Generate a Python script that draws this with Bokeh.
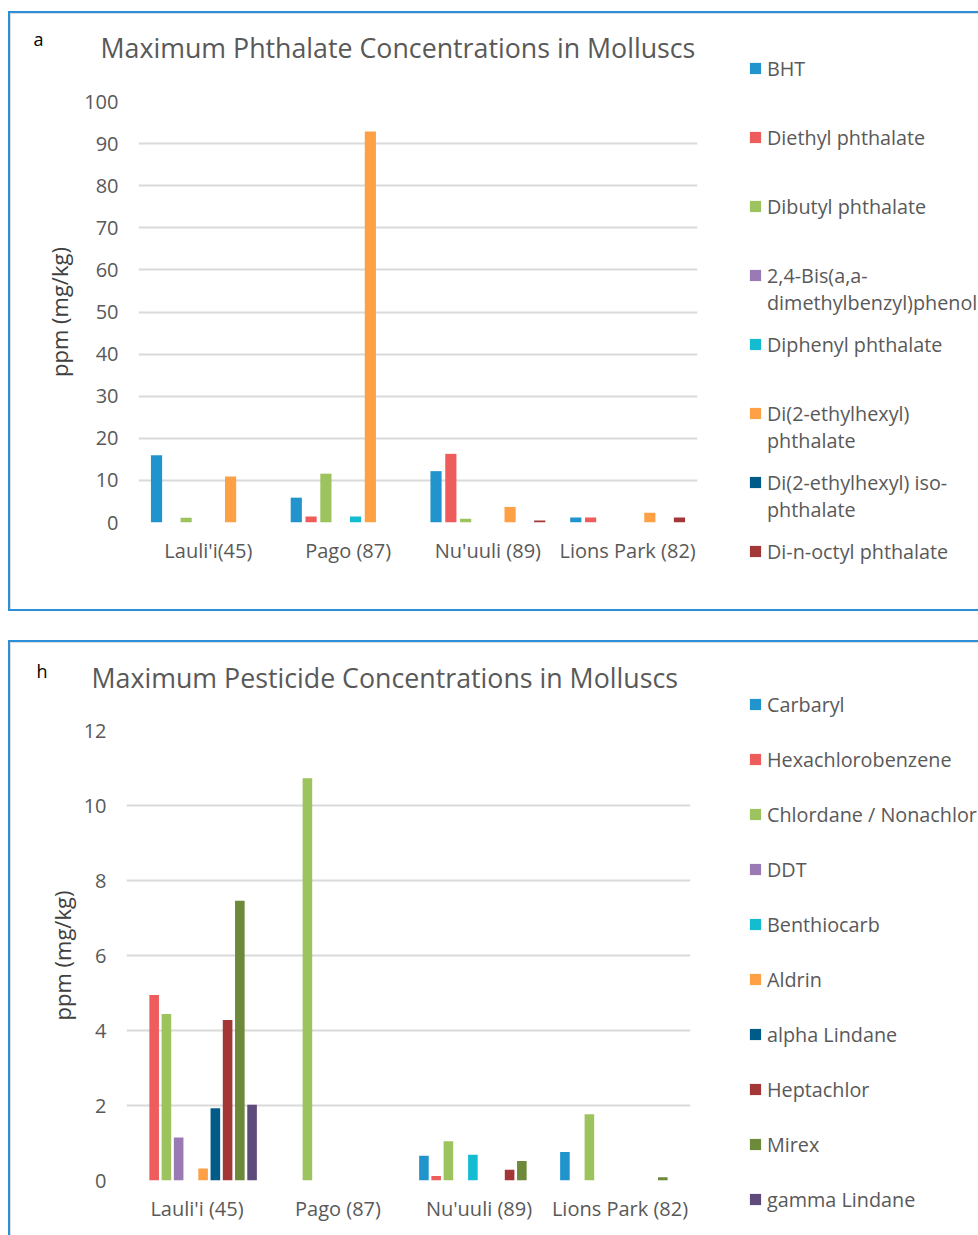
from bokeh.plotting import figure
from bokeh.models import (FactorRange, Range1d, Legend, LegendItem, Label,
                          SingleIntervalTicker, ColumnDataSource)
from bokeh.transform import dodge
from bokeh.layouts import column, row
from bokeh.embed import file_html
from bokeh.resources import INLINE

# ---------------- data: panel a (phthalates) ----------------
sites_a = ["Lauli'i(45)", "Pago (87)", "Nu'uuli (89)", "Lions Park (82)"]
phthalate_names = ["BHT", "Diethyl phthalate", "Dibutyl phthalate",
                   "2,4-Bis(a,a-\ndimethylbenzyl)phenol", "Diphenyl phthalate",
                   "Di(2-ethylhexyl)\nphthalate", "Di(2-ethylhexyl) iso-\nphthalate",
                   "Di-n-octyl phthalate"]
bht = [16.0, 5.9, 12.2, 1.2]
diethyl = [0.0, 1.4, 16.3, 1.2]
dibutyl = [1.1, 11.6, 0.9, 0.0]
bis_phenol = [0.0, 0.0, 0.0, 0.0]
diphenyl = [0.0, 1.4, 0.0, 0.0]
dehp = [10.9, 92.9, 3.7, 2.3]
dehip = [0.0, 0.0, 0.0, 0.0]
dnop = [0.0, 0.0, 0.5, 1.2]
phthalate_values = [bht, diethyl, dibutyl, bis_phenol, diphenyl, dehp, dehip, dnop]

# ---------------- data: panel b (pesticides) ----------------
sites_b = ["Lauli'i (45)", "Pago (87)", "Nu'uuli (89)", "Lions Park (82)"]
pesticide_names = ["Carbaryl", "Hexachlorobenzene", "Chlordane / Nonachlor", "DDT",
                   "Benthiocarb", "Aldrin", "alpha Lindane", "Heptachlor", "Mirex",
                   "gamma Lindane"]
carbaryl = [0.0, 0.0, 0.66, 0.76]
hcb = [4.95, 0.0, 0.12, 0.0]
chlordane = [4.44, 10.73, 1.05, 1.77]
ddt = [1.15, 0.0, 0.0, 0.0]
benthiocarb = [0.0, 0.0, 0.69, 0.0]
aldrin = [0.32, 0.0, 0.0, 0.0]
alpha_lindane = [1.93, 0.0, 0.0, 0.0]
heptachlor = [4.28, 0.0, 0.29, 0.0]
mirex = [7.46, 0.0, 0.52, 0.09]
gamma_lindane = [2.02, 0.0, 0.0, 0.0]
pesticide_values = [carbaryl, hcb, chlordane, ddt, benthiocarb, aldrin,
                    alpha_lindane, heptachlor, mirex, gamma_lindane]

colors = ["#2194CE", "#EE5C5C", "#9DC35F", "#9A7AB5", "#14BCD2",
          "#FDA046", "#005B88", "#A33636", "#6C8A3A", "#5F4A7C"]

FONT = "Open Sans"
GRAY = "#595959"
BLUE = "#2B90D9"
W_MAIN = 741
W_LEG = 237


def frame_css(top, bottom):
    """Chart-area border (blue, open on the right) drawn behind the canvases."""
    hgt = bottom - top
    imgs, pos, size = [], [], []
    imgs += ["linear-gradient(%s,%s)" % (BLUE, BLUE)] * 3
    pos += ["8px %dpx" % top, "8px %dpx" % top, "8px %dpx" % (bottom - 2)]
    size += ["2px %dpx" % hgt, "970px 2px", "970px 2px"]
    imgs += ["linear-gradient(#DDDDDD,#DDDDDD)"] * 2
    pos += ["10px %dpx" % (top + 2), "10px %dpx" % (top + 2)]
    size += ["1px %dpx" % (hgt - 4), "968px 1px"]
    return {"background-image": ", ".join(imgs),
            "background-position": ", ".join(pos),
            "background-size": ", ".join(size),
            "background-repeat": "no-repeat"}


def bare_figure(w, h):
    f = figure(width=w, height=h, x_axis_type=None, y_axis_type=None,
               x_range=Range1d(0, 1), y_range=Range1d(0, 1),
               output_backend="svg", toolbar_location=None, min_border=0,
               frame_align=False)
    f.outline_line_color = None
    f.background_fill_color = None
    f.border_fill_color = None
    f.grid.visible = False
    return f


def make_panel(letter, title, sites, names, values, ymax, ystep,
               panel_h, header_h, frame_l, frame_r, frame_t, frame_b,
               step, bar_w, title_xy, letter_xy, axis_label_standoff,
               leg_first, leg_slot, box):
    # ---- header with panel letter and chart title ----
    head = bare_figure(W_MAIN, header_h)
    head.add_layout(Label(x=letter_xy[0], y=letter_xy[1], x_units="canvas",
                          y_units="canvas", text=letter, text_font=FONT,
                          text_font_size="18px", text_color="black",
                          text_baseline="middle"))
    head.add_layout(Label(x=title_xy[0], y=title_xy[1], x_units="canvas",
                          y_units="canvas", text=title, text_font=FONT,
                          text_font_size="26.75px", text_color=GRAY,
                          text_baseline="middle"))

    # ---- bar chart ----
    main_h = panel_h - header_h
    p = figure(width=W_MAIN, height=main_h, x_range=FactorRange(*sites),
               y_range=Range1d(0, ymax), output_backend="svg",
               toolbar_location=None, frame_align=False,
               min_border_left=frame_l, min_border_right=W_MAIN - frame_r,
               min_border_top=frame_t - header_h,
               min_border_bottom=panel_h - frame_b)
    p.outline_line_color = None
    p.background_fill_color = None
    p.border_fill_color = None
    p.xgrid.grid_line_color = None
    p.ygrid.grid_line_color = "#DADADA"
    p.ygrid.grid_line_width = 2
    p.yaxis.ticker = SingleIntervalTicker(interval=ystep)
    for ax in (p.xaxis[0], p.yaxis[0]):
        ax.axis_line_color = None
        ax.major_tick_line_color = None
        ax.minor_tick_line_color = None
        ax.major_tick_out = 0
        ax.major_tick_in = 0
        ax.major_label_text_font = FONT
        ax.major_label_text_font_size = "20px"
        ax.major_label_text_color = GRAY
    p.yaxis.major_label_standoff = 16
    p.xaxis.major_label_standoff = 14
    p.yaxis.axis_label = "ppm (mg/kg)"
    p.yaxis.axis_label_text_font = FONT
    p.yaxis.axis_label_text_font_size = "22px"
    p.yaxis.axis_label_text_font_style = "normal"
    p.yaxis.axis_label_text_color = "#404040"
    p.yaxis.axis_label_standoff = axis_label_standoff

    data = {"site": sites}
    for i, v in enumerate(values):
        data["s%d" % i] = v
    src = ColumnDataSource(data)
    n = len(values)
    for i in range(n):
        off = (i - (n - 1) / 2.0) * step
        p.vbar(x=dodge("site", off, range=p.x_range), top="s%d" % i,
               width=bar_w, source=src, fill_color=colors[i], line_color=None)

    # ---- legend (one legend block per series, Excel-like spacing) ----
    lf = bare_figure(W_LEG, panel_h)
    # swatch-only renderers (zero-height, never visible on the canvas)
    blank = lf.vbar(x=[-5], top=[-5], bottom=[-5], width=0.1,
                    fill_alpha=0, line_alpha=0)
    for i, name in enumerate(names):
        sw = lf.vbar(x=[-5], top=[-5], bottom=[-5], width=0.1,
                     fill_color=colors[i], line_color=None)
        lines = name.split("\n")
        items = [LegendItem(label=lines[0], renderers=[sw])]
        items += [LegendItem(label=ln, renderers=[blank]) for ln in lines[1:]]
        line_h = 27
        top = leg_first + i * leg_slot - line_h / 2.0
        vy = panel_h - top - line_h * len(lines)
        lf.add_layout(Legend(items=items, location=(7, vy),
                             label_text_font=FONT,
                             label_text_font_size="19.8px",
                             label_text_color=GRAY, glyph_width=14,
                             glyph_height=14, label_standoff=5,
                             label_height=line_h, spacing=0, padding=0,
                             margin=0, border_line_color=None,
                             background_fill_alpha=0), "center")

    panel = row(column(head, p, spacing=0), lf, spacing=0)
    panel.styles = frame_css(*box)
    return panel


# panel a: page rows 0..624
pa = make_panel("a", "Maximum Phthalate Concentrations in Molluscs", sites_a,
                phthalate_names, phthalate_values, 100, 10,
                624, 80, 138, 697, 101, 522, 0.106, 0.08,
                (100, 47), (33, 38), 7, 68, 69, (11, 611))
# panel b: page rows 624..1235 (coordinates relative to the panel)
pb = make_panel("h", "Maximum Pesticide Concentrations in Molluscs", sites_b,
                pesticide_names, pesticide_values, 12, 2,
                611, 85, 126, 690, 106, 556, 0.0868, 0.068,
                (91, 53), (36, 46), 4, 80, 55, (16, 640))

layout = column(pa, pb, spacing=0)
open("out.html", "w").write(file_html(layout, INLINE))
